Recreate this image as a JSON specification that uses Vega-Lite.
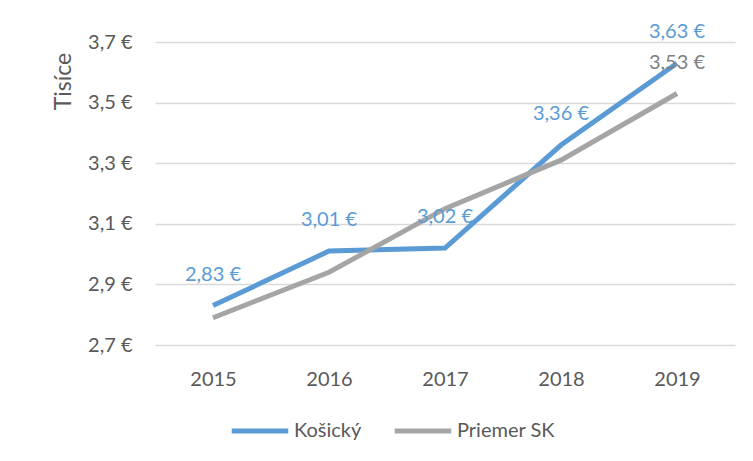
{
  "$schema": "https://vega.github.io/schema/vega-lite/v6.json",
  "width": 580,
  "height": 303,
  "autosize": {"type": "none"},
  "padding": {"left": 155, "top": 42, "right": 18, "bottom": 116},
  "background": "white",
  "config": {
    "locale": {"number": {"decimal": ",", "thousands": " ", "grouping": [3], "currency": ["", " €"]}},
    "font": "Lato",
    "view": {"stroke": null}
  },
  "data": {
    "values": [
      {"year": "2015", "series": "Košický", "value": 2.83},
      {"year": "2016", "series": "Košický", "value": 3.01},
      {"year": "2017", "series": "Košický", "value": 3.02},
      {"year": "2018", "series": "Košický", "value": 3.36},
      {"year": "2019", "series": "Košický", "value": 3.63},
      {"year": "2015", "series": "Priemer SK", "value": 2.79},
      {"year": "2016", "series": "Priemer SK", "value": 2.94},
      {"year": "2017", "series": "Priemer SK", "value": 3.15},
      {"year": "2018", "series": "Priemer SK", "value": 3.31},
      {"year": "2019", "series": "Priemer SK", "value": 3.53}
    ]
  },
  "encoding": {
    "x": {
      "field": "year", "type": "ordinal",
      "scale": {"type": "point", "padding": 0.5},
      "axis": {"title": null, "labelAngle": 0, "ticks": false, "domain": false, "grid": false,
               "labelFontSize": 20, "labelColor": "#595959", "labelPadding": 24}
    },
    "y": {
      "field": "value", "type": "quantitative",
      "scale": {"domain": [2.7, 3.7], "nice": false, "zero": false},
      "axis": {"title": "Tisíce", "values": [2.7, 2.9, 3.1, 3.3, 3.5, 3.7], "format": "$.1f",
               "ticks": false, "domain": false, "gridColor": "#D9D9D9", "gridWidth": 1.3,
               "labelFontSize": 20, "labelColor": "#595959", "labelPadding": 23,
               "titleFontSize": 23, "titleColor": "#595959", "titleFontWeight": "normal",
               "titleAngle": -90, "titleX": -92, "titleY": 39, "titleAlign": "center", "titleBaseline": "middle"}
    }
  },
  "layer": [
    {
      "mark": {"type": "line", "strokeWidth": 5, "strokeCap": "butt"},
      "encoding": {
        "color": {
          "field": "series", "type": "nominal",
          "scale": {"domain": ["Košický", "Priemer SK"], "range": ["#5B9BD5", "#A5A5A5"]},
          "legend": {"title": null, "orient": "none", "legendX": 74, "legendY": 358, "direction": "horizontal",
                     "symbolType": "stroke", "symbolSize": 3200, "symbolStrokeWidth": 5,
                     "labelFontSize": 20, "labelColor": "#595959", "columnPadding": 22, "labelOffset": 3}
        }
      }
    },
    {
      "transform": [{"filter": "datum.series == 'Košický' || datum.year == '2019'"}],
      "mark": {"type": "text", "dy": -31, "fontSize": 20, "align": "center", "baseline": "middle"},
      "encoding": {
        "text": {"field": "value", "type": "quantitative", "format": "$.2f"},
        "color": {"condition": {"test": "datum.series == 'Košický'", "value": "#5B9BD5"}, "value": "#7F7F7F"}
      }
    }
  ]
}
